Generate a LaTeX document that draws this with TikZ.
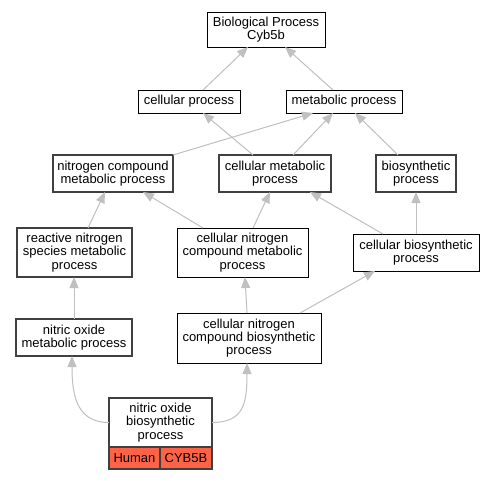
\documentclass[tikz,border=0pt]{standalone}
\usepackage{fontspec}
\setmainfont{Liberation Sans}
\usetikzlibrary{arrows.meta}
\definecolor{edgegray}{HTML}{C0C0C0}
\definecolor{boxgray}{HTML}{404040}
\definecolor{hit}{HTML}{FF6347}
\begin{document}
\begin{tikzpicture}[x=1pt,y=-1pt,
  every node/.style={font=\fontsize{13}{13.3}\selectfont, align=center, inner sep=0pt, outer sep=0pt},
  boxa/.style={draw=black, line width=0.9pt, fill=white},
  boxb/.style={draw=boxgray, line width=1.5pt, fill=white},
  hitbox/.style={draw=boxgray, line width=1.5pt, fill=hit},
  edge/.style={draw=edgegray, line width=1pt, -{Triangle[length=11pt,width=9pt]}}]
\useasboundingbox (0,0) rectangle (495,480);
\fill[white] (0,0) rectangle (495,480);

\node[boxa, minimum width=118pt, minimum height=35pt] (bio) at (266,29.5) {Biological Process\\Cyb5b};
\node[boxa, minimum width=102pt, minimum height=23pt] (cp) at (189,101.5) {cellular process};
\node[boxa, minimum width=116pt, minimum height=23pt] (mp) at (344,101.5) {metabolic process};
\node[boxb, minimum width=120pt, minimum height=37pt] (ncm) at (113,173.5) {nitrogen compound\\metabolic process};
\node[boxb, minimum width=112pt, minimum height=37pt] (cmp) at (275,173.5) {cellular metabolic\\process};
\node[boxb, minimum width=80pt, minimum height=37pt] (bp) at (416,173.5) {biosynthetic\\process};
\node[boxb, minimum width=115pt, minimum height=49pt] (rns) at (74.5,252.5) {reactive nitrogen\\species metabolic\\process};
\node[boxa, minimum width=131pt, minimum height=49pt] (cncm) at (242.5,252.5) {cellular nitrogen\\compound metabolic\\process};
\node[boxa, minimum width=126pt, minimum height=37pt] (cbp) at (416,252.5) {cellular biosynthetic\\process};
\node[boxb, minimum width=116pt, minimum height=37pt] (nom) at (74,337.5) {nitric oxide\\metabolic process};
\node[boxa, minimum width=144pt, minimum height=50pt] (cncb) at (249,338) {cellular nitrogen\\compound biosynthetic\\process};
\node[boxb, minimum width=103pt, minimum height=49pt] (nob) at (160.5,422.5) {nitric oxide\\biosynthetic\\process};
\node[hitbox, minimum width=51pt, minimum height=22pt] (nobh) at (134.5,458) {Human};
\node[hitbox, minimum width=52pt, minimum height=22pt] (nobc) at (186,458) {CYB5B};

\draw[edge] ([xshift=14pt]cp.north) -- ([xshift=-18pt]bio.south);
\draw[edge] ([xshift=-11pt]mp.north) -- ([xshift=19pt]bio.south);
\draw[edge] (ncm.north east) -- ([xshift=-31pt]mp.south);
\draw[edge] ([xshift=-22pt]cmp.north) -- ([xshift=14pt]cp.south);
\draw[edge] ([xshift=18pt]cmp.north) -- ([xshift=-11pt]mp.south);
\draw[edge] ([xshift=-18pt]bp.north) -- ([xshift=11pt]mp.south);
\draw[edge] ([xshift=13.5pt]rns.north) -- ([xshift=-8pt]ncm.south);
\draw[edge] ([xshift=-39.5pt]cncm.north) -- ([xshift=30pt]ncm.south);
\draw[edge] ([xshift=10.5pt]cncm.north) -- ([xshift=-5pt]cmp.south);
\draw[edge] ([xshift=-33pt]cbp.north) -- ([xshift=35pt]cmp.south);
\draw[edge] (cbp.north) -- (bp.south);
\draw[edge] ([xshift=-0.5pt]rns.south |- nom.north) -- ([xshift=-0.5pt]rns.south);
\draw[edge] ([xshift=-2pt]cncb.north) -- ([xshift=2.5pt]cncm.south);
\draw[edge] ([xshift=51pt]cncb.north) -- ([xshift=-41pt]cbp.south);
\draw[edge] (nob.west) .. controls +(-32,0) and +(0,40) .. ([xshift=-2pt]nom.south);
\draw[edge] (nob.east) .. controls +(32,0) and +(0,40) .. ([xshift=-2pt]cncb.south);
\end{tikzpicture}
\end{document}
